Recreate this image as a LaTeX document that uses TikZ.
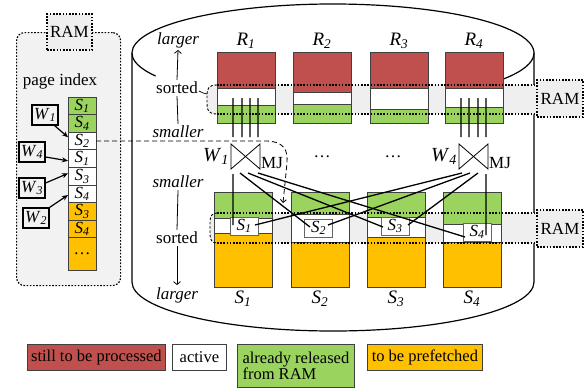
\documentclass[tikz,border=0pt]{standalone}
\usepackage{fontspec}
\setmainfont{Liberation Serif}
\newfontfamily\tms{Liberation Serif}
\usetikzlibrary{arrows.meta,calc,shadows}
\definecolor{cred}{HTML}{C0504D}
\definecolor{cgreen}{HTML}{9BD35F}
\definecolor{corange}{HTML}{FFC000}
\definecolor{bandgray}{HTML}{EFEFEF}
\definecolor{panelgray}{HTML}{F2F2F2}
\definecolor{edge}{HTML}{404040}
\newcommand\fsz[1]{\tms\fontsize{#1bp}{#1bp}\selectfont}
\newcommand\lb[2]{\textit{#1}\textsubscript{\textit{#2}}}
\begin{document}
\begin{tikzpicture}[x=1bp,y=-1bp,font=\fsz{17},
  cyl/.style={line width=1.2bp},
  colbox/.style={draw=edge,line width=0.8bp,inner sep=0pt,outer sep=0pt,minimum width=58bp,anchor=north west},
  segline/.style={draw=edge,line width=0.7bp},
  dotl/.style={line width=1.2bp,dash pattern=on 1.6bp off 1.6bp},
  dashl/.style={line width=0.9bp,dash pattern=on 2.5bp off 1.8bp},
  ramnode/.style={draw,dotl,fill=bandgray,minimum width=46bp,minimum height=37bp,inner sep=0pt},
  conn/.style={line width=1.3bp},
  act/.style={draw=black!60,line width=0.8bp,fill=white,minimum width=28bp,minimum height=18bp,inner sep=0pt},
  mjbox/.style={minimum width=29bp,minimum height=25bp,inner sep=0pt,outer sep=0pt},
  cell/.style={draw=edge,line width=0.8bp,minimum width=28bp,inner sep=0pt,outer sep=0pt,anchor=north west},
  wbox/.style={draw,line width=1.2bp,fill=panelgray,minimum width=26bp,minimum height=20bp,inner sep=1bp,
     drop shadow={shadow xshift=1bp,shadow yshift=-1bp,fill=black!45,opacity=1}},
  leg/.style={draw=edge,line width=0.8bp,inner sep=2bp,anchor=north west,font=\tms\fontsize{16.5bp}{16.5bp}\selectfont,
     drop shadow={shadow xshift=1bp,shadow yshift=-1bp,fill=black!45,opacity=1}},
  axis/.style={line width=0.8bp},
  axarrow/.style={line width=0.8bp,-{Straight Barb[length=3bp,width=7bp]}},
  biglab/.style={font=\fsz{19}},
  itlab/.style={font=\fsz{17}\itshape,inner sep=2bp},
  arr/.style={line width=1.2bp,-{Stealth[length=6bp,width=5bp]}},
]
\useasboundingbox (0,0) rectangle (587,389);

% cylinder
\draw[cyl] (333,53) ++(152:201 and 49) arc[start angle=152,end angle=392,x radius=201,y radius=49];
\draw[cyl] (132,53) -- (132,282) arc[start angle=180,end angle=0,x radius=201,y radius=49] -- (534,53);

% side labels
\node[itlab] (lg1) at (178,40) {larger};
\node[inner sep=2bp] (so1) at (177,88) {sorted};
\node[itlab] (sm1) at (178,132) {smaller};
\draw[axarrow] (so1.north) -- (lg1.south);
\draw[axis] (so1.south) -- (sm1.north);
\node[itlab] (sm2) at (178,182) {smaller};
\node[inner sep=2bp] (so2) at (177,238) {sorted};
\node[itlab] (lg2) at (177,295) {larger};
\draw[axis] (sm2.south) -- (so2.north);
\draw[axarrow] (so2.south) -- (lg2.north);

% band fills
\fill[bandgray] (217,85) .. controls (209,85) and (207,88) .. (207,95) -- (207,104) .. controls (207,111) and (209,114) .. (217,114) -- (537,114) -- (537,85) -- cycle;
\fill[bandgray] (217,213) .. controls (212,213) and (210,216) .. (210,222) -- (210,234) .. controls (210,240) and (212,243) .. (217,243) -- (537,243) -- (537,213) -- cycle;

% R columns
\foreach \i/\x/\r/\g in {1/217/88/105,2/293/92/104,3/370/88/109,4/445/88/107}{
  \fill[cred] (\x,52) rectangle (\x+58,\r);
  \fill[white] (\x,\r) rectangle (\x+58,\g);
  \fill[cgreen] (\x,\g) rectangle (\x+58,123);
  \draw[segline] (\x,\r) -- (\x+58,\r) (\x,\g) -- (\x+58,\g);
  \node[colbox,minimum height=71bp] (R\i) at (\x,52) {};
  \node[biglab] (Rl\i) at (\x+29,41) {\lb{R}{\i}};
}
% S columns
\foreach \i/\x/\g/\o in {1/214/218/233,2/291/214/242,3/367/217/237,4/443/224/242}{
  \fill[cgreen] (\x,192) rectangle (\x+58,\g);
  \fill[white] (\x,\g) rectangle (\x+58,\o);
  \fill[corange] (\x,\o) rectangle (\x+58,287);
  \draw[segline] (\x,\g) -- (\x+58,\g) (\x,\o) -- (\x+58,\o);
  \node[colbox,minimum height=95bp] (S\i) at (\x,192) {};
  \node[biglab] (Sl\i) at (\x+29,299) {\lb{S}{\i}};
}

% band borders and RAM boxes
\draw[dotl] (217,85) -- (537,85) (217,114) -- (537,114);
\draw[dashl] (217,85) .. controls (209,85) and (207,88) .. (207,95) -- (207,104) .. controls (207,111) and (209,114) .. (217,114);
\draw[dotl] (217,213) -- (537,213) (217,243) -- (537,243);
\draw[dashl] (217,213) .. controls (212,213) and (210,216) .. (210,222) -- (210,234) .. controls (210,240) and (212,243) .. (217,243);
\node[ramnode] (ram1) at (560,98.5) {RAM};
\node[ramnode] (ram2) at (560,228.5) {RAM};
\coordinate (tail) at (207,94);
\draw[line width=0.7bp] ($(so1.east)+(-1,3)$) to[out=-10,in=190] (tail);

% active pages
\node[act] (a1) at (244,226) {\lb{S}{1}};
\node[act] (a2) at (318.5,228) {\lb{S}{2}};
\node[act] (a3) at (395,226) {\lb{S}{3}};
\node[act] (a4) at (477,232) {\lb{S}{4}};

% merge joins
\node[mjbox] (mj1) at (245.5,156.5) {};
\draw[line width=0.8bp] (mj1.north west) -- (mj1.south west) -- (mj1.north east) -- (mj1.south east) -- cycle;
\node[mjbox] (mj4) at (473.5,156.5) {};
\draw[line width=0.8bp] (mj4.north west) -- (mj4.south west) -- (mj4.north east) -- (mj4.south east) -- cycle;
\node[font=\fsz{20},anchor=east,inner sep=2bp] (w1l) at (mj1.west) {\lb{W}{1}};
\node[font=\fsz{20},anchor=east,inner sep=2bp] (w4l) at (mj4.west) {\lb{W}{4}};
\node[anchor=west,inner sep=1bp] (mjl1) at ($(mj1.south east)+(0,-6)$) {MJ};
\node[anchor=west,inner sep=1bp] (mjl4) at ($(mj4.south east)+(0,-6)$) {MJ};
\node (dots1) at (322,157) {\dots};
\node (dots2) at (393,157) {\dots};

% inputs from R1 and R4
\foreach \a/\b in {16/2,25/11,33/19,41/27}{
  \draw[conn] ($(R1.south west)+(\a,-25)$) -- ($(mj1.north west)+(\b,-7)$);
}
\foreach \a/\b in {16/2,24/10,33/19,41/27}{
  \draw[conn] ($(R4.south west)+(\a,-25)$) -- ($(mj4.north west)+(\b,-7)$);
}
% outputs to S pages
\draw[conn] ($(mj1.south west)+(2,5)$) -- ($(a1)+(-11,-1)$);
\draw[conn] ($(mj1.south west)+(9,4)$) -- ($(a2)+(-8.5,-1)$);
\draw[conn] ($(mj1.south west)+(17,4)$) -- ($(a3)+(-12,1)$);
\draw[conn] ($(mj1.south west)+(27,4)$) -- ($(a4)+(-12,5)$);
\draw[conn] ($(mj4.south west)+(3,4)$) -- ($(a1)+(11,-1)$);
\draw[conn] ($(mj4.south west)+(11,4)$) -- ($(a2)+(9.5,-3)$);
\draw[conn] ($(mj4.south west)+(19,4)$) -- ($(a3)+(13,-1)$);
\draw[conn] ($(mj4.south west)+(27,5)$) -- ($(a4)+(9,3)$);

% left RAM panel
\node[draw,dotl,rounded corners=8bp,fill=panelgray,minimum width=104bp,minimum height=253bp,anchor=north west,inner sep=0pt] (panel) at (16,32) {};
\node[ramnode,minimum width=45bp,minimum height=36bp] (ram0) at (69.5,32) {RAM};
\node (pidx) at (60,81) {page index};
\foreach \j/\t/\c/\y/\h in {1/\lb{S}{1}/cgreen/97/17.6,2/\lb{S}{4}/cgreen/114.6/17.6,3/\lb{S}{2}/white/132.2/17.6,
   4/\lb{S}{1}/white/149.8/17.6,5/\lb{S}{3}/white/167.4/17.6,6/\lb{S}{4}/white/185/17.6,
   7/\lb{S}{3}/corange/202.6/17.6,8/\lb{S}{4}/corange/220.2/17.6,9/\dots/corange/237.8/32.2}{
  \node[cell,fill=\c,minimum height=\h bp] (pi\j) at (68,\y) {\t};
}
\node[wbox] (w1) at (45,115) {\lb{W}{1}};
\node[wbox] (w4) at (32,152) {\lb{W}{4}};
\node[wbox] (w3) at (32,188) {\lb{W}{3}};
\node[wbox] (w2) at (36,218) {\lb{W}{2}};
\draw[arr] ($(w1.south east)+(-4,0)$) -- ($(pi3.north west)+(0,5)$);
\draw[arr] ($(w4.east)+(0,5)$) -- ($(pi4.north west)+(0,11)$);
\draw[arr] ($(w3.east)+(0,-5)$) -- ($(pi5.north west)+(0,6)$);
\draw[arr] (w2.north east) -- ($(pi6.north west)+(0,10)$);

% dashed link from page index to S1 pages
\coordinate (dend) at (283,203);
\draw[line width=0.8bp,dash pattern=on 5bp off 3bp,-{Straight Barb[length=3bp,width=6bp]}] (pi3.east) -- (265,141) .. controls (284,141) and (288,150) .. (287,163) -- (dend);

% legend
\node[leg,fill=cred,minimum width=138bp,minimum height=26bp] (l1) at (27,344) {still to be processed};
\node[leg,fill=white,minimum width=54bp,minimum height=26bp] (l2) at (172,344) {active};
\node[leg,fill=cgreen,minimum width=117bp,minimum height=43bp,align=left] (l3) at (237,344) {already released\\from RAM};
\node[leg,fill=corange,minimum width=115bp,minimum height=26bp] (l4) at (367,344) {to be prefetched};
\end{tikzpicture}
\end{document}
